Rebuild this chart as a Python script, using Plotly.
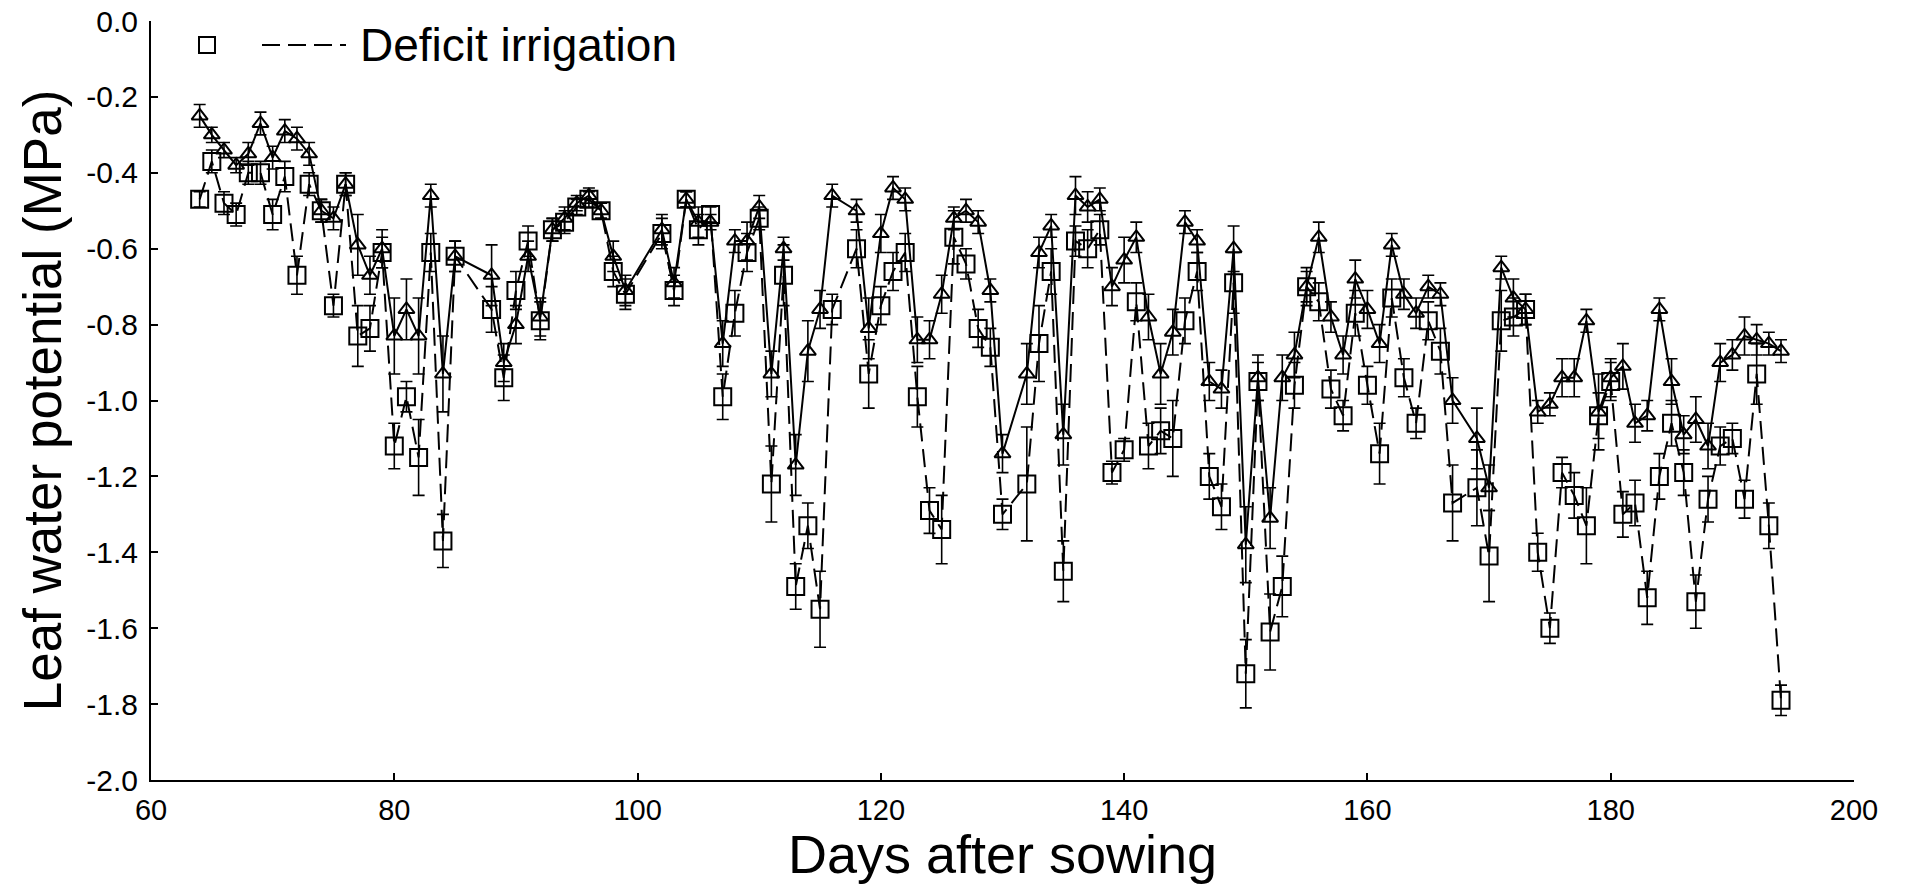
import plotly.graph_objects as go

# ---- data ----
days = (list(range(64, 86)) + list(range(88, 100)) + list(range(102, 117)) +
        list(range(118, 131)) + list(range(132, 168)) + list(range(169, 195)))

deficit = [-0.47, -0.37, -0.48, -0.51, -0.40, -0.40, -0.51, -0.41, -0.67, -0.43, -0.50,
           -0.75, -0.43, -0.83, -0.81, -0.61, -1.12, -0.99, -1.15, -0.61, -1.37, -0.62,
           -0.76, -0.94, -0.71, -0.58, -0.79, -0.55, -0.53, -0.49, -0.47, -0.50, -0.66, -0.72,
           -0.56, -0.71, -0.47, -0.55, -0.51, -0.99, -0.77, -0.61, -0.52, -1.22, -0.67, -1.49,
           -1.33, -1.55, -0.76,
           -0.60, -0.93, -0.75, -0.66, -0.61, -0.99, -1.29, -1.34, -0.57, -0.64, -0.81, -0.86,
           -1.30,
           -1.22, -0.85, -0.66, -1.45, -0.58, -0.60, -0.55, -1.19, -1.13, -0.74, -1.12, -1.08,
           -1.10, -0.79, -0.66, -1.20, -1.28, -0.69, -1.72, -0.95, -1.61, -1.49, -0.96, -0.70,
           -0.74, -0.97, -1.04, -0.77, -0.96, -1.14, -0.73, -0.94, -1.06, -0.79, -0.87, -1.27,
           -1.23, -1.41, -0.79, -0.78, -0.76, -1.40, -1.60, -1.19, -1.25, -1.33, -1.04, -0.95,
           -1.30, -1.27, -1.52, -1.20, -1.06, -1.19, -1.53, -1.26, -1.12, -1.10, -1.26, -0.93,
           -1.33, -1.79]

deficit_err = [0.02, 0.03, 0.03, 0.03, 0.03, 0.03, 0.04, 0.04, 0.05, 0.03, 0.03, 0.03, 0.03,
               0.08, 0.06, 0.04, 0.06, 0.04, 0.10, 0.05, 0.07, 0.04,
               0.06, 0.06, 0.05, 0.04, 0.05, 0.03, 0.03, 0.02, 0.02, 0.02, 0.04, 0.04,
               0.04, 0.04, 0.02, 0.04, 0.02, 0.06, 0.06, 0.05, 0.03, 0.10, 0.08, 0.06, 0.06,
               0.10, 0.04,
               0.05, 0.09, 0.05, 0.05, 0.05, 0.08, 0.06, 0.09, 0.07, 0.04, 0.05, 0.05, 0.04,
               0.15, 0.10, 0.06, 0.08, 0.04, 0.05, 0.04, 0.03, 0.03, 0.05, 0.06, 0.06, 0.10,
               0.06, 0.05, 0.06, 0.06, 0.08, 0.09, 0.05, 0.10, 0.08, 0.06, 0.05, 0.05, 0.05,
               0.04, 0.06, 0.05, 0.08, 0.05, 0.05, 0.04, 0.05, 0.06, 0.10,
               0.10, 0.12, 0.08, 0.05, 0.04, 0.05, 0.04, 0.04, 0.06, 0.10, 0.06, 0.05, 0.06,
               0.06, 0.07, 0.06, 0.06, 0.06, 0.07, 0.06, 0.05, 0.04, 0.05, 0.08, 0.06, 0.04]

full = [-0.25, -0.30, -0.34, -0.38, -0.35, -0.27, -0.36, -0.29, -0.31, -0.35, -0.50,
        -0.52, -0.43, -0.59, -0.67, -0.60, -0.83, -0.76, -0.83, -0.46, -0.93, -0.62,
        -0.67, -0.90, -0.80, -0.62, -0.78, -0.55, -0.52, -0.48, -0.46, -0.50, -0.62, -0.71,
        -0.55, -0.69, -0.47, -0.53, -0.53, -0.85, -0.58, -0.58, -0.49, -0.93, -0.60, -1.17,
        -0.87, -0.76, -0.46,
        -0.50, -0.81, -0.56, -0.44, -0.47, -0.84, -0.84, -0.72, -0.52, -0.50, -0.53, -0.71,
        -1.14,
        -0.93, -0.61, -0.54, -1.09, -0.46, -0.49, -0.47, -0.70, -0.63, -0.57, -0.78, -0.93,
        -0.82, -0.53, -0.58, -0.95, -0.97, -0.60, -1.38, -0.94, -1.31, -0.94, -0.88, -0.70,
        -0.57, -0.78, -0.88, -0.68, -0.76, -0.85, -0.59, -0.72, -0.77, -0.70, -0.72, -1.00,
        -1.10, -1.23, -0.65, -0.73, -0.76, -1.03, -1.01, -0.94, -0.94, -0.79, -1.03, -0.94,
        -0.91, -1.06, -1.04, -0.76, -0.95, -1.09, -1.05, -1.12, -0.90, -0.88, -0.83, -0.84,
        -0.85, -0.87]

full_err = [0.03, 0.02, 0.02, 0.02, 0.03, 0.03, 0.03, 0.03, 0.03, 0.03, 0.03, 0.03, 0.03,
            0.08, 0.05, 0.05, 0.10, 0.08, 0.10, 0.03, 0.10, 0.04,
            0.08, 0.05, 0.05, 0.04, 0.05, 0.03, 0.03, 0.02, 0.02, 0.02, 0.04, 0.04,
            0.04, 0.04, 0.02, 0.04, 0.02, 0.06, 0.03, 0.05, 0.03, 0.06, 0.03, 0.08, 0.08,
            0.05, 0.03,
            0.03, 0.08, 0.05, 0.03, 0.03, 0.06, 0.05, 0.05, 0.03, 0.03, 0.03, 0.03, 0.05,
            0.08, 0.04, 0.03, 0.08, 0.05, 0.04, 0.03, 0.05, 0.06, 0.04, 0.06, 0.08, 0.06,
            0.03, 0.03, 0.05, 0.05, 0.06, 0.10, 0.06, 0.08, 0.06, 0.06, 0.04, 0.04, 0.04,
            0.05, 0.05, 0.05, 0.05, 0.03, 0.04, 0.04, 0.03, 0.03, 0.06,
            0.08, 0.06, 0.03, 0.05, 0.04, 0.03, 0.03, 0.05, 0.05, 0.03, 0.10, 0.05, 0.06,
            0.05, 0.04, 0.03, 0.06, 0.05, 0.06, 0.06, 0.05, 0.04, 0.05, 0.04, 0.03, 0.03]

assert len(days) == len(deficit) == len(deficit_err) == len(full) == len(full_err), (
    len(days), len(deficit), len(deficit_err), len(full), len(full_err))

x_ticks = [60, 80, 100, 120, 140, 160, 180, 200]
x_tick_text = ["60", "80", "100", "120", "140", "160", "180", "200"]
y_ticks = [0.0, -0.2, -0.4, -0.6, -0.8, -1.0, -1.2, -1.4, -1.6, -1.8, -2.0]
y_tick_text = ["0.0", "-0.2", "-0.4", "-0.6", "-0.8", "-1.0", "-1.2", "-1.4", "-1.6", "-1.8", "-2.0"]

legend_label = "Deficit irrigation"

FONT = "Liberation Sans, Arial, Helvetica, sans-serif"

fig = go.Figure()

fig.add_trace(go.Scatter(
    x=days, y=full, mode="lines+markers", name="Full irrigation", showlegend=False,
    line=dict(color="black", width=2),
    marker=dict(symbol="triangle-up-open", size=14, color="black", line=dict(width=2)),
    error_y=dict(type="data", array=full_err, color="black", thickness=1.6, width=6),
))

fig.add_trace(go.Scatter(
    x=days, y=deficit, mode="lines+markers", name=legend_label, showlegend=False,
    line=dict(color="black", width=2, dash="18px,8px"),
    marker=dict(symbol="square-open", size=17, color="black", line=dict(width=2)),
    error_y=dict(type="data", array=deficit_err, color="black", thickness=1.6, width=6),
))

# plot area in pixels: x 151..1854, y 21..780
L, R, T, B = 151, 56, 21, 104
W, H = 1910, 884
pw, ph = W - L - R, H - T - B


def px_x(px):
    return (px - L) / pw


def px_y(py):
    return 1 - (py - T) / ph


# custom legend (square marker, dashed line, label)
leg_y = px_y(45)
fig.add_shape(type="rect", xref="paper", yref="paper", xsizemode="pixel", ysizemode="pixel",
              xanchor=px_x(207), yanchor=leg_y, x0=-8, x1=8, y0=-8, y1=8,
              line=dict(color="black", width=2), fillcolor="rgba(0,0,0,0)")
fig.add_shape(type="line", xref="paper", yref="paper",
              x0=px_x(262), x1=px_x(346), y0=leg_y, y1=leg_y,
              line=dict(color="black", width=2, dash="18px,8px"))
fig.add_annotation(xref="paper", yref="paper", x=px_x(358), y=leg_y,
                   text=legend_label, showarrow=False, xanchor="left", yanchor="middle",
                   font=dict(family=FONT, size=46, color="black"))

fig.update_layout(
    width=W, height=H,
    margin=dict(l=L, r=R, t=T, b=B, autoexpand=False),
    paper_bgcolor="white", plot_bgcolor="white",
    font=dict(family=FONT, color="black"),
)

fig.update_xaxes(
    range=[60, 200], tickvals=x_ticks, ticktext=x_tick_text,
    showgrid=False, zeroline=False, showline=True, linecolor="black", linewidth=2,
    ticks="inside", ticklen=7, tickwidth=2, tickcolor="black",
    tickfont=dict(family=FONT, size=29), ticklabelstandoff=3,
    title=dict(text="Days after sowing", font=dict(family=FONT, size=54), standoff=8),
    automargin=False,
)
fig.update_yaxes(
    range=[-2.0, 0.0], tickvals=y_ticks, ticktext=y_tick_text,
    showgrid=False, zeroline=False, showline=True, linecolor="black", linewidth=2,
    ticks="inside", ticklen=7, tickwidth=2, tickcolor="black",
    tickfont=dict(family=FONT, size=30), ticklabelstandoff=5,
    title=dict(text="Leaf water potential (MPa)", font=dict(family=FONT, size=53), standoff=8),
    automargin=False,
)

fig.write_html("out.html")
